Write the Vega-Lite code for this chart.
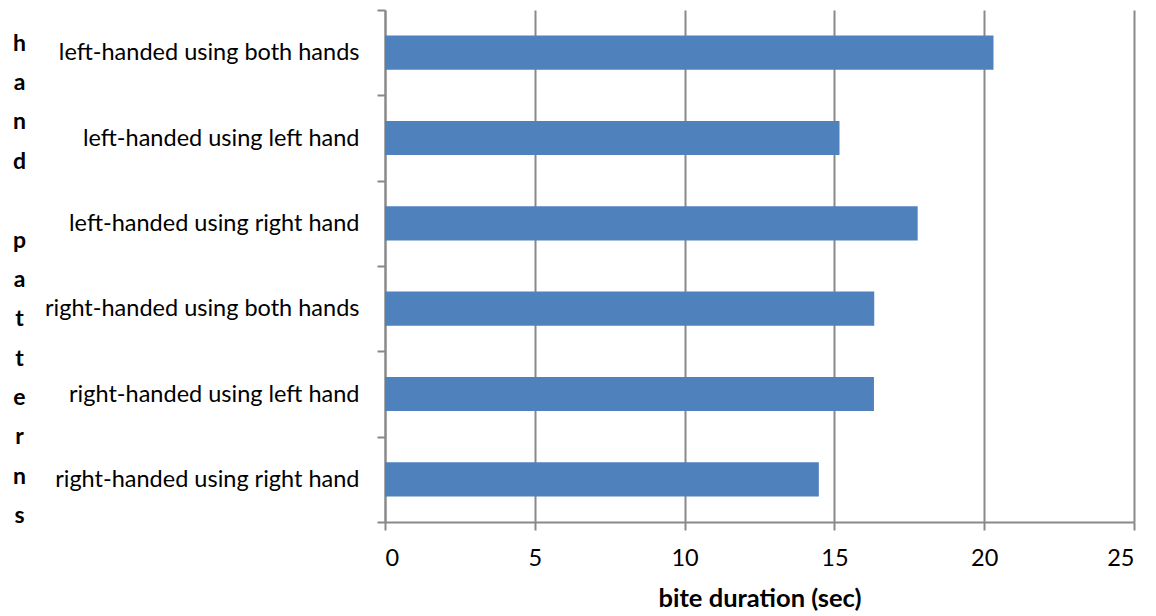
{
  "$schema": "https://vega.github.io/schema/vega-lite/v6.json",
  "autosize": "none",
  "width": 749,
  "height": 512,
  "padding": {"left": 385, "top": 10, "right": 22, "bottom": 94},
  "background": "white",
  "data": {"values": [
    {"pattern": "left-handed using both hands", "duration": 20.31},
    {"pattern": "left-handed using left hand", "duration": 15.17},
    {"pattern": "left-handed using right hand", "duration": 17.78},
    {"pattern": "right-handed using both hands", "duration": 16.33},
    {"pattern": "right-handed using left hand", "duration": 16.32},
    {"pattern": "right-handed using right hand", "duration": 14.48}
  ]},
  "mark": {"type": "bar", "color": "#4F81BD", "height": {"band": 0.4}},
  "encoding": {
    "y": {
      "field": "pattern", "type": "nominal", "sort": null,
      "scale": {"paddingInner": 0, "paddingOuter": 0},
      "axis": {
        "title": ["h", "a", "n", "d", "\u2800", "p", "a", "t", "t", "e", "r", "n", "s"],
        "titleAngle": 0, "titleX": -366, "titleY": 40, "titleAlign": "center",
        "titleBaseline": "alphabetic", "titleLineHeight": 39.4,
        "titleFont": "Lato", "titleFontSize": 23, "titleFontWeight": "bold", "titleColor": "black",
        "labelFont": "Lato", "labelFontSize": 23.5, "labelColor": "black", "labelPadding": 18, "labelLimit": 400,
        "tickBand": "extent", "tickSize": 8, "tickColor": "#898989", "tickWidth": 2,
        "domainColor": "#898989", "domainWidth": 2, "grid": false
      }
    },
    "x": {
      "field": "duration", "type": "quantitative",
      "scale": {"domain": [0, 25], "nice": false},
      "axis": {
        "title": "bite duration (sec)", "values": [0, 5, 10, 15, 20, 25],
        "titleFont": "Lato", "titleFontSize": 25.5, "titleFontWeight": "bold", "titleColor": "black",
        "titleBaseline": "alphabetic", "titleY": 84,
        "labelFont": "Lato", "labelFontSize": 23.5, "labelColor": "black", "labelPadding": 16,
        "tickSize": 8, "tickColor": "#898989", "tickWidth": 2,
        "domainColor": "#898989", "domainWidth": 2,
        "grid": true, "gridColor": "#898989", "gridWidth": 2
      }
    }
  },
  "config": {"view": {"stroke": null}}
}
